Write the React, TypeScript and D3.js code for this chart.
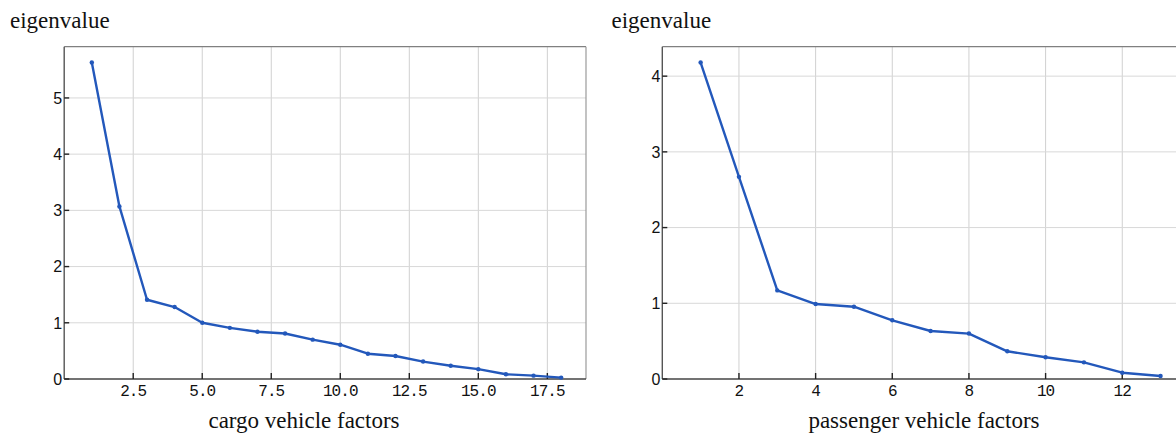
import React from 'react';
import { scaleLinear, line, max } from 'd3';

const cargoFactors = [1, 2, 3, 4, 5, 6, 7, 8, 9, 10, 11, 12, 13, 14, 15, 16, 17, 18];
const cargoEigen = [5.63, 3.07, 1.41, 1.28, 1.0, 0.91, 0.84, 0.81, 0.70, 0.61, 0.45, 0.41, 0.31, 0.235, 0.175, 0.085, 0.06, 0.025];
const cargoXTicks = [2.5, 5, 7.5, 10, 12.5, 15, 17.5];
const cargoYTicks = [0, 1, 2, 3, 4, 5];

const passengerFactors = [1, 2, 3, 4, 5, 6, 7, 8, 9, 10, 11, 12, 13];
const passengerEigen = [4.18, 2.67, 1.17, 0.99, 0.955, 0.775, 0.634, 0.60, 0.366, 0.287, 0.22, 0.083, 0.04];
const passengerXTicks = [2, 4, 6, 8, 10, 12];
const passengerYTicks = [0, 1, 2, 3, 4];

const LINE_COLOR = '#2358bb';
const SERIF = '"Liberation Serif", "Times New Roman", serif';

type PanelProps = {
  xs: number[];
  ys: number[];
  xTicks: number[];
  yTicks: number[];
  fmt: (v: number) => string;
  left: number;
  right: number;
  top: number;
  bottom: number;
  yTitleX: number;
  xTitle: string;
  xTitleX: number;
};

function Panel (props: PanelProps) {
  const { xs, ys, xTicks, yTicks, fmt, left, right, top, bottom } = props;
  const x = scaleLinear().domain([0, (max(xs) as number) * 1.05]).range([left, right]);
  const y = scaleLinear().domain([0, (max(ys) as number) * 1.05]).range([bottom, top]);
  const pts = xs.map((d, i) => [d, ys[i]] as [number, number]);
  const path = line<[number, number]>().x(d => x(d[0])).y(d => y(d[1]))(pts) || '';

  return (
    <g>
      {/* grid */}
      {xTicks.map(t => (
        <line key={'gx' + t} x1={x(t)} x2={x(t)} y1={top} y2={bottom} stroke='#d0d0d0' strokeWidth={1} />
      ))}
      {yTicks.filter(t => t > 0).map(t => (
        <line key={'gy' + t} x1={left} x2={right} y1={y(t)} y2={y(t)} stroke='#d8d8d8' strokeWidth={1} />
      ))}
      {/* frame */}
      <line x1={left} x2={right} y1={top} y2={top} stroke='#808080' strokeWidth={1.2} />
      <line x1={right} x2={right} y1={top} y2={bottom} stroke='#9a9a9a' strokeWidth={1.2} />
      <line x1={left} x2={left} y1={top} y2={bottom} stroke='#555' strokeWidth={1.4} />
      <line x1={left} x2={right} y1={bottom} y2={bottom} stroke='#444' strokeWidth={1.4} />
      {/* ticks */}
      {xTicks.map(t => (
        <g key={'tx' + t}>
          <line x1={x(t)} x2={x(t)} y1={bottom} y2={bottom - 6} stroke='#222' strokeWidth={1.4} />
          <text x={x(t)} y={bottom + 16.5} textAnchor='middle' fontSize={16} letterSpacing={-0.9}
            fontFamily='"Liberation Mono", "DejaVu Sans Mono", monospace' fill='#111'>
            {fmt(t)}
          </text>
        </g>
      ))}
      {yTicks.map(t => (
        <g key={'ty' + t}>
          <line x1={left} x2={left + 5} y1={y(t)} y2={y(t)} stroke='#222' strokeWidth={1.4} />
          <text x={left - 2} y={y(t)} dy='0.36em' textAnchor='end' fontSize={16}
            fontFamily='"Liberation Sans", Arial, sans-serif' fill='#111'>
            {t}
          </text>
        </g>
      ))}
      {/* series */}
      <path d={path} fill='none' stroke={LINE_COLOR} strokeWidth={2.4} strokeLinejoin='round' />
      {pts.map(d => (
        <circle key={'p' + d[0]} cx={x(d[0])} cy={y(d[1])} r={2.2} fill={LINE_COLOR} />
      ))}
      {/* titles */}
      <text x={props.yTitleX} y={28} fontSize={23} fontFamily={SERIF} fill='#111'>eigenvalue</text>
      <text x={props.xTitleX} y={428} textAnchor='middle' fontSize={23} fontFamily={SERIF} fill='#111'>
        {props.xTitle}
      </text>
    </g>
  );
}

export default function App () {
  return (
    <div style={{ position: 'absolute', left: 0, top: 0 }}>
      <svg width={1176} height={434} style={{ display: 'block', background: '#fff' }}>
        <Panel xs={cargoFactors} ys={cargoEigen} xTicks={cargoXTicks} yTicks={cargoYTicks}
          fmt={v => v.toFixed(1)} left={64.2} right={586} top={46.7} bottom={379}
          yTitleX={10} xTitle='cargo vehicle factors' xTitleX={304} />
        <Panel xs={passengerFactors} ys={passengerEigen} xTicks={passengerXTicks} yTicks={passengerYTicks}
          fmt={v => String(v)} left={662.3} right={1185.5} top={46.7} bottom={379}
          yTitleX={611.5} xTitle='passenger vehicle factors' xTitleX={924} />
      </svg>
    </div>
  );
}
